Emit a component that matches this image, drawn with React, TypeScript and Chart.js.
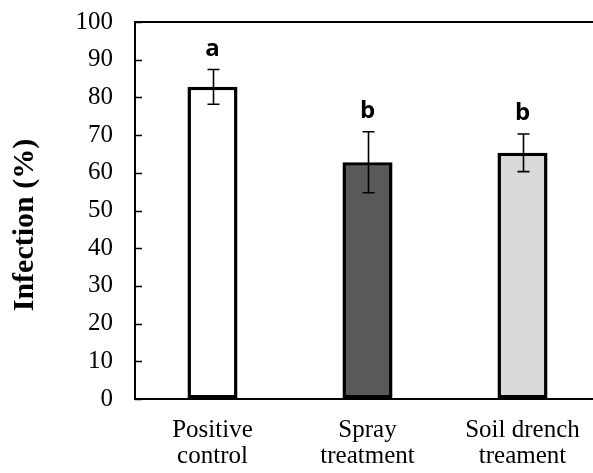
import React, { useEffect, useRef } from "react";
import { Chart, registerables } from "chart.js";

Chart.register(...registerables);

const categories: string[][] = [
  ["Positive", "control"],
  ["Spray", "treatment"],
  ["Soil drench", "treament"],
];
const infection: number[] = [82.8, 62.8, 65.3];
const errors: number[] = [4.6, 8.1, 5.0];
const groupLetters: string[] = ["a", "b", "b"];
const barColors: string[] = ["#ffffff", "#595959", "#d9d9d9"];
const yTicks: number[] = [0, 10, 20, 30, 40, 50, 60, 70, 80, 90, 100];

const CANVAS_W = 612;
const CANVAS_H = 473;
const SERIF = "'Liberation Serif', 'Times New Roman', serif";

const framePlugin = {
  id: "frameAndMarks",
  afterDatasetsDraw(chart: any) {
    const { ctx, chartArea, scales } = chart;
    const y = scales.y;
    const meta = chart.getDatasetMeta(0);
    ctx.save();

    // error bars
    ctx.strokeStyle = "#000";
    ctx.lineWidth = 1.6;
    meta.data.forEach((bar: any, i: number) => {
      const x = Math.round(bar.x) + 0.5;
      const top = y.getPixelForValue(infection[i] + errors[i]);
      const bot = y.getPixelForValue(infection[i] - errors[i]);
      ctx.beginPath();
      ctx.moveTo(x, top);
      ctx.lineTo(x, bot);
      ctx.moveTo(x - 6, top);
      ctx.lineTo(x + 6, top);
      ctx.moveTo(x - 6, bot);
      ctx.lineTo(x + 6, bot);
      ctx.stroke();

      // significance letters
      ctx.fillStyle = "#000";
      ctx.font = "bold 24px 'Open Sans', 'Noto Sans', sans-serif";
      ctx.textAlign = "center";
      ctx.textBaseline = "alphabetic";
      ctx.fillText(groupLetters[i], bar.x, top - 14);
    });

    // plot frame
    ctx.lineWidth = 2;
    ctx.strokeStyle = "#000";
    ctx.strokeRect(chartArea.left, chartArea.top, chartArea.right - chartArea.left, chartArea.bottom - chartArea.top);

    // inward tick marks on the value axis
    ctx.lineWidth = 1.5;
    yTicks.forEach((v) => {
      const py = Math.round(y.getPixelForValue(v)) + 0.5;
      ctx.beginPath();
      ctx.moveTo(chartArea.left, py);
      ctx.lineTo(chartArea.left + 7, py);
      ctx.stroke();
    });

    // value axis title
    ctx.translate(25, 225);
    ctx.rotate(-Math.PI / 2);
    ctx.font = `bold 30px ${SERIF}`;
    ctx.textAlign = "center";
    ctx.textBaseline = "middle";
    ctx.fillStyle = "#000";
    ctx.fillText("Infection (%)", 0, 0);
    ctx.restore();
  },
};

export default function App() {
  const canvasRef = useRef<HTMLCanvasElement | null>(null);

  useEffect(() => {
    if (!canvasRef.current) return;
    const chart = new Chart(canvasRef.current, {
      type: "bar",
      data: {
        labels: categories,
        datasets: [
          {
            data: infection,
            backgroundColor: barColors,
            borderColor: "#000",
            borderWidth: 3.5,
            borderSkipped: false,
            categoryPercentage: 1,
            barPercentage: 0.323,
          },
        ],
      },
      options: {
        animation: false,
        responsive: false,
        layout: { padding: { left: 0, right: 12, top: 22, bottom: 0 } },
        plugins: {
          legend: { display: false },
          tooltip: { enabled: false },
        },
        scales: {
          x: {
            grid: { display: false, drawTicks: false },
            border: { display: false },
            ticks: {
              color: "#000",
              padding: 19,
              maxRotation: 0,
              font: { family: SERIF, size: 25, lineHeight: 1.02 },
            },
            afterFit(scale: any) {
              scale.height = 74;
            },
          },
          y: {
            min: 0,
            max: 100,
            // invisible tick marks reserve the gap between labels and axis
            grid: {
              display: true,
              drawOnChartArea: false,
              drawTicks: true,
              tickLength: 22,
              tickColor: "rgba(0,0,0,0)",
            },
            border: { display: false },
            ticks: {
              stepSize: 10,
              color: "#000",
              padding: 0,
              font: { family: SERIF, size: 25 },
            },
            afterFit(scale: any) {
              scale.width = 135;
            },
          },
        },
      },
      plugins: [framePlugin],
    });
    return () => chart.destroy();
  }, []);

  return (
    <div
      style={{
        position: "fixed",
        left: 0,
        top: 0,
        width: 593,
        height: 473,
        overflow: "hidden",
        background: "#fff",
      }}
    >
      <canvas ref={canvasRef} width={CANVAS_W} height={CANVAS_H} style={{ display: "block" }} />
    </div>
  );
}
